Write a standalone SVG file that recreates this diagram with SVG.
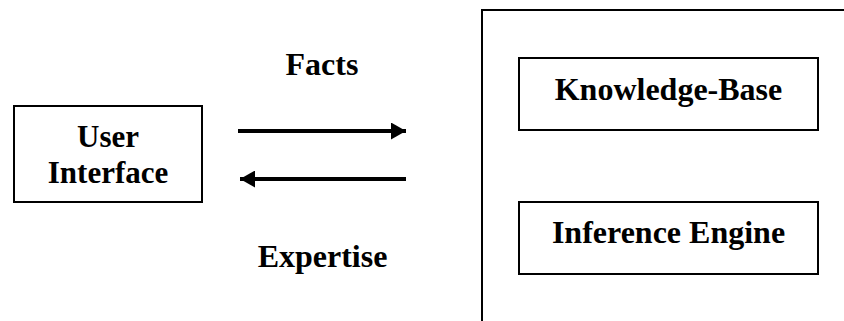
<svg xmlns="http://www.w3.org/2000/svg" width="844" height="321" viewBox="0 0 844 321">
  <style>
    .box { fill: #fff; stroke: #000; stroke-width: 2; }
    .lbl { font-family: "Liberation Serif", "Times New Roman", serif; font-weight: bold; font-size: 32px; fill: #000; text-anchor: middle; }
    .ui { font-size: 31px; }
    .flow { stroke: #000; stroke-width: 4; fill: none; }
  </style>
  <defs>
    <marker id="head" viewBox="0 0 15 17" refX="15" refY="8.5" markerWidth="15" markerHeight="17" markerUnits="userSpaceOnUse" orient="auto">
      <path d="M0,0 L15,8.5 L0,17 Z" fill="#000"/>
    </marker>
  </defs>
  <rect width="844" height="321" fill="#fff"/>

  <g id="user-interface">
    <rect class="box" x="14" y="106" width="188" height="96"/>
    <text class="lbl ui" x="108" y="147">User</text>
    <text class="lbl ui" x="108" y="183">Interface</text>
  </g>

  <g id="expert-system">
    <path d="M482,321 L482,10 L844,10" fill="none" stroke="#000" stroke-width="2"/>
  </g>

  <g id="knowledge-base">
    <rect class="box" x="519" y="58" width="299" height="72"/>
    <text class="lbl" x="668.5" y="100">Knowledge-Base</text>
  </g>

  <g id="inference-engine">
    <rect class="box" x="519" y="202" width="299" height="72"/>
    <text class="lbl" x="668.5" y="243">Inference Engine</text>
  </g>

  <g id="connectors">
    <line class="flow" x1="238" y1="131" x2="406" y2="131" marker-end="url(#head)"/>
    <line class="flow" x1="406" y1="179" x2="240" y2="179" marker-end="url(#head)"/>
    <text class="lbl" x="322" y="75">Facts</text>
    <text class="lbl" x="322.5" y="267">Expertise</text>
  </g>
</svg>
